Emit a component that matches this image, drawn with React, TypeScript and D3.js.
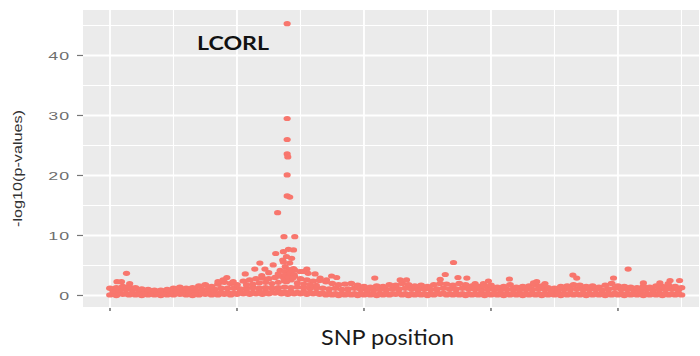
import React from "react";
import * as d3 from "d3";

// Genome position axis (Mb) and -log10(p) axis
const xMajorTicks = [0, 20, 40, 60, 80];
const xMinorTicks = [10, 30, 50, 70, 90];
const yMajorTicks = [0, 10, 20, 30, 40];
const yMinorTicks = [5, 15, 25, 35, 45];

// Background SNPs, summarised per 1-Mb bin (bin i sits at i Mb)
const binLow = [
  0.1, 0.0, 0.2, 0.1, 0.1, 0.0, 0.1, 0.1, 0.0, 0.1,
  0.1, 0.2, 0.1, 0.0, 0.1, 0.2, 0.1, 0.1, 0.2, 0.1,
  0.2, 0.3, 0.2, 0.3, 0.2, 0.3, 0.4, 0.3, 0.2, 0.3,
  0.3, 0.2, 0.3, 0.2, 0.1, 0.1, 0.0, 0.1, 0.1, 0.0,
  0.1, 0.1, 0.0, 0.1, 0.1, 0.2, 0.1, 0.0, 0.1, 0.1,
  0.0, 0.1, 0.2, 0.1, 0.1, 0.1, 0.0, 0.1, 0.1, 0.0,
  0.1, 0.1, 0.0, 0.1, 0.1, 0.0, 0.1, 0.1, 0.0, 0.1,
  0.1, 0.0, 0.1, 0.1, 0.1, 0.0, 0.1, 0.1, 0.0, 0.1,
  0.1, 0.0, 0.1, 0.1, 0.0, 0.1, 0.1, 0.0, 0.1, 0.1,
  0.1,
];

// Second layer of weak SNPs (placed half a bin to the right)
const binLow2 = [
  0.3, 0.4, 0.3, 0.4, 0.3, 0.2, 0.3, 0.2, 0.3, 0.3,
  0.4, 0.3, 0.3, 0.4, 0.4, 0.5, 0.4, 0.5, 0.5, 0.4,
  0.5, 0.6, 0.5, 0.6, 0.6, 0.5, 0.7, 0.6, 0.6, 0.5,
  0.6, 0.5, 0.5, 0.4, 0.4, 0.3, 0.3, 0.4, 0.3, 0.3,
  0.3, 0.2, 0.3, 0.4, 0.3, 0.4, 0.3, 0.3, 0.4, 0.3,
  0.3, 0.4, 0.4, 0.3, 0.4, 0.3, 0.3, 0.2, 0.3, 0.3,
  0.4, 0.3, 0.3, 0.4, 0.3, 0.3, 0.4, 0.3, 0.3, 0.2,
  0.3, 0.3, 0.4, 0.3, 0.4, 0.3, 0.3, 0.3, 0.4, 0.4,
  0.3, 0.3, 0.2, 0.3, 0.3, 0.3, 0.4, 0.3, 0.3, 0.3,
];

// Middle SNPs of each bin (placed half a bin to the right)
const binMid = [
  0.8, 0.9, 1.0, 1.0, 0.9, 0.7, 0.7, 0.6, 0.6, 0.7,
  0.8, 0.9, 0.8, 0.9, 1.0, 1.1, 1.0, 1.2, 1.2, 1.2,
  1.1, 1.2, 1.3, 1.2, 1.3, 1.2, 1.3, 1.4, 1.3, 1.4,
  1.3, 1.2, 1.3, 1.2, 1.1, 1.2, 1.0, 1.1, 1.2, 1.0,
  0.9, 0.9, 1.0, 1.0, 1.1, 1.1, 1.2, 1.1, 1.0, 1.1,
  1.0, 1.1, 1.2, 1.1, 1.1, 1.2, 1.1, 1.0, 0.9, 1.0,
  1.1, 0.9, 1.0, 1.1, 0.9, 1.0, 1.0, 1.1, 1.0, 0.8,
  0.8, 1.0, 1.1, 1.1, 1.1, 1.0, 1.0, 0.9, 1.1, 1.2,
  1.0, 1.0, 0.9, 0.8, 1.0, 0.9, 1.0, 1.0, 1.1, 0.9,
];

// Strongest background SNP of each bin
const binTop = [
  1.2, 1.3, 1.5, 1.5, 1.3, 1.1, 1.0, 0.9, 0.9, 1.0,
  1.2, 1.4, 1.2, 1.3, 1.6, 1.8, 1.5, 1.9, 2.2, 2.0,
  1.8, 2.4, 2.6, 2.8, 2.9, 2.8, 3.0, 3.2, 3.5, 3.2,
  2.8, 2.6, 2.4, 2.5, 2.3, 2.0, 1.8, 1.9, 2.0, 1.7,
  1.5, 1.4, 1.6, 1.5, 1.8, 1.7, 2.0, 1.8, 1.6, 1.7,
  1.5, 1.8, 2.0, 1.9, 1.7, 2.0, 1.8, 1.6, 1.5, 1.6,
  1.7, 1.4, 1.5, 1.8, 1.4, 1.5, 1.6, 1.8, 1.6, 1.3,
  1.2, 1.5, 1.6, 1.8, 1.7, 1.5, 1.6, 1.4, 1.7, 2.0,
  1.6, 1.5, 1.4, 1.3, 1.5, 1.4, 1.6, 1.5, 1.6, 1.5,
  1.3,
];

// Individual SNPs standing out of the background: position (Mb)
const hitPos = [
  1.1, 1.8, 2.6, 3.1,
  17.0, 17.8, 18.4, 19.4,
  21.5, 22.5, 23.5, 24.5, 25.5, 26.5, 27.5, 28.5, 29.5, 30.5, 31.5, 32.5,
  21.3, 22.8, 23.6, 24.4, 23.9, 25.0, 25.7,
  26.1, 26.4, 26.8, 26.5,
  27.2, 27.3, 27.3, 27.4, 27.6, 27.8, 27.5, 27.6, 27.4, 27.8,
  27.9, 27.9, 27.9, 27.9, 28.0, 27.9, 27.9, 28.3,
  28.1, 28.3, 28.6, 28.9, 28.9, 29.1, 29.1, 28.2, 28.4, 29.0, 28.1, 28.8,
  29.9, 30.4, 31.0, 31.2, 32.3, 33.1, 34.1, 34.9, 35.7,
  41.7, 45.7, 46.7,
  52.0, 52.8, 54.1, 54.8, 56.2, 57.5, 58.8, 59.6, 62.9,
  66.7, 67.2, 68.5,
  72.9, 73.5,
  79.3, 81.6, 84.0, 86.6, 87.9, 88.2, 89.7,
];

// ...and their -log10(p-values)
const hitLogP = [
  2.3, 2.3, 3.7, 2.0,
  2.3, 2.6, 3.0, 2.3,
  1.8, 1.9, 2.1, 2.2, 2.0, 2.2, 2.4, 2.6, 2.1, 1.9, 1.8, 1.7,
  3.6, 4.4, 5.4, 4.4, 3.3, 3.8, 5.1,
  7.0, 13.8, 4.2, 3.6,
  5.9, 7.3, 5.6, 9.8, 4.8, 6.5, 4.0, 3.4, 2.8, 2.3,
  45.3, 29.5, 26.0, 23.6, 23.1, 20.1, 16.6, 16.4,
  7.7, 5.4, 6.2, 7.6, 4.5, 9.8, 4.25, 4.3, 3.7, 3.5, 3.0, 2.9,
  4.0, 4.0, 4.4, 3.7, 3.6, 2.9, 2.6, 3.25, 3.0,
  2.9, 2.6, 2.6,
  2.7, 3.5, 5.5, 3.0, 2.9, 2.0, 2.0, 2.4, 2.75,
  2.1, 2.3, 2.0,
  3.4, 2.9,
  2.9, 4.4, 2.1, 2.1, 2.0, 2.5, 2.5,
];

const GENE_LABEL = "LCORL";
const X_TITLE = "SNP position";
const Y_TITLE = "-log10(p-values)";

const W = 700;
const H = 356;
const panel = { left: 83, right: 699, top: 10, bottom: 307 };
const POINT = "#F8766D";

export default function App() {
  const x = d3.scaleLinear().domain([-4.252, 92.76]).range([panel.left, panel.right]);
  const y = d3.scaleLinear().domain([-1.92, 47.58]).range([panel.bottom, panel.top]);

  type Pt = { p: number; v: number };
  const background: Pt[] = [
    ...binLow.map((v, i) => ({ p: i, v })),
    ...binLow2.map((v, i) => ({ p: i + 0.5, v })),
    ...binMid.map((v, i) => ({ p: i + 0.5, v })),
    ...binTop.map((v, i) => ({ p: i, v })),
  ];
  const hits: Pt[] = hitPos.map((p, i) => ({ p, v: hitLogP[i] }));

  const tickFont = "'Liberation Sans', Arial, sans-serif";
  const labelFont = "Lato, 'Open Sans', sans-serif";

  return (
    <svg
      width={W}
      height={H}
      viewBox={`0 0 ${W} ${H}`}
      style={{ position: "absolute", left: 0, top: 0, background: "#fff" }}
    >
      <defs>
        <filter id="soft" x="-5%" y="-5%" width="110%" height="110%">
          <feGaussianBlur stdDeviation="0.45" />
        </filter>
      </defs>
      <rect x={0} y={0} width={W} height={H} fill="#ffffff" />
      {/* panel background */}
      <rect
        x={panel.left}
        y={panel.top}
        width={panel.right - panel.left}
        height={panel.bottom - panel.top}
        fill="#EBEBEB"
      />
      {/* minor grid */}
      {xMinorTicks.map((t) => (
        <line key={`xm${t}`} x1={x(t)} x2={x(t)} y1={panel.top} y2={panel.bottom} stroke="#fff" strokeWidth={1.1} />
      ))}
      {yMinorTicks.map((t) => (
        <line key={`ym${t}`} x1={panel.left} x2={panel.right} y1={y(t)} y2={y(t)} stroke="#fff" strokeWidth={1.1} />
      ))}
      {/* major grid */}
      {xMajorTicks.map((t) => (
        <line key={`xM${t}`} x1={x(t)} x2={x(t)} y1={panel.top} y2={panel.bottom} stroke="#fff" strokeWidth={1.8} />
      ))}
      {yMajorTicks.map((t) => (
        <line key={`yM${t}`} x1={panel.left} x2={panel.right} y1={y(t)} y2={y(t)} stroke="#fff" strokeWidth={1.8} />
      ))}

      {/* SNPs */}
      <g fill={POINT} filter="url(#soft)">
        {background.map((d, i) => (
          <ellipse key={`b${i}`} cx={x(d.p)} cy={y(d.v)} rx={3.9} ry={2.7} />
        ))}
        {hits.map((d, i) => (
          <ellipse key={`h${i}`} cx={x(d.p)} cy={y(d.v)} rx={3.6} ry={2.6} />
        ))}
      </g>

      {/* y axis ticks and labels */}
      {yMajorTicks.map((t) => (
        <g key={`yt${t}`}>
          <line x1={panel.left - 6} x2={panel.left} y1={y(t)} y2={y(t)} stroke="#777" strokeWidth={1.2} />
          <text
            transform={`translate(${panel.left - 13},${y(t)}) scale(1.55,1)`}
            textAnchor="end"
            dy="0.36em"
            fontFamily={tickFont}
            fontSize={11.5}
            fill="#6e6e6e"
            letterSpacing={0.6}
          >
            {t}
          </text>
        </g>
      ))}

      {/* x axis ticks (unlabelled) */}
      {xMajorTicks.map((t) => (
        <line key={`xt${t}`} x1={x(t)} x2={x(t)} y1={panel.bottom + 1} y2={panel.bottom + 4} stroke="#555" strokeWidth={1.3} />
      ))}

      {/* axis titles */}
      <text
        transform={`translate(18,168.5) rotate(-90)`}
        textAnchor="middle"
        dy="0.35em"
        fontFamily={tickFont}
        fontSize={12}
        fill="#333"
        textLength={117}
        lengthAdjust="spacingAndGlyphs"
      >
        {Y_TITLE}
      </text>
      <text
        x={321}
        y={345}
        fontFamily={labelFont}
        fontSize={20.5}
        fill="#1a1a1a"
        textLength={133}
        lengthAdjust="spacingAndGlyphs"
      >
        {X_TITLE}
      </text>

      {/* gene annotation */}
      <text
        x={197}
        y={50}
        fontFamily={labelFont}
        fontWeight={700}
        fontSize={19}
        fill="#111"
        textLength={72}
        lengthAdjust="spacingAndGlyphs"
      >
        {GENE_LABEL}
      </text>
    </svg>
  );
}
